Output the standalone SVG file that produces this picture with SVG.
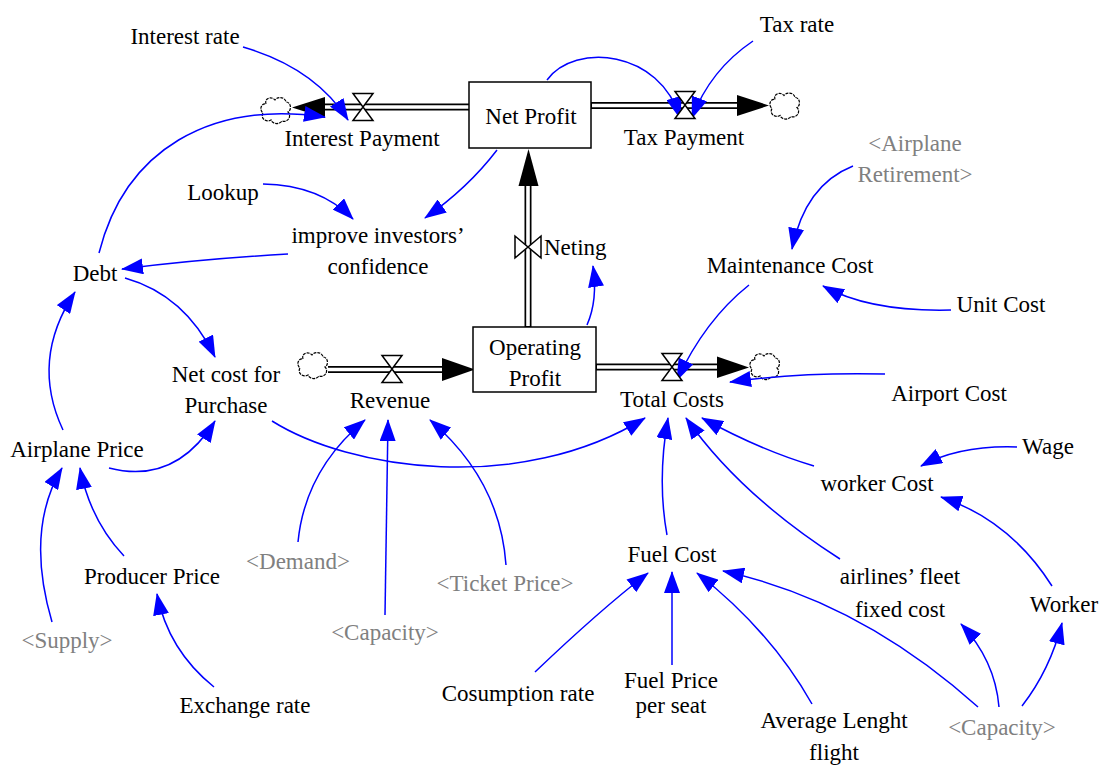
<svg xmlns="http://www.w3.org/2000/svg" width="1101" height="765" viewBox="0 0 1101 765">
<style>
text{font-family:'Liberation Serif',serif;font-size:23px;fill:#000;text-anchor:middle}
text.sh{fill:#808080}
.box{fill:#fff;stroke:#000;stroke-width:1.5}
.pipeo{stroke:#000;stroke-width:7;fill:none}
.pipei{stroke:#fff;stroke-width:3.6;fill:none}
.valve{fill:#fff;stroke:#000;stroke-width:1.5}
.head{fill:#000}
.cloud{fill:#fff;stroke:#000;stroke-width:1.2;stroke-dasharray:3 1}
.lk{fill:none;stroke:#0000ff;stroke-width:1.5;marker-end:url(#ah)}
</style>
<defs>
<marker id="ah" markerUnits="userSpaceOnUse" markerWidth="22" markerHeight="16" refX="21" refY="8" orient="auto">
<path d="M0,0 L22,8 L0,16 z" fill="#0000ff"/>
</marker>
<path id="cl" class="cloud" d="M-10,-6 C-12,-12 -4,-14 -1,-10 C2,-14 9,-13 10,-8 C15,-8 16,0 12,2 C16,6 12,13 6,11 C3,15 -4,14 -5,10 C-10,13 -16,8 -13,3 C-17,0 -15,-7 -10,-6 Z"/>
<path id="vv" class="valve" d="M-10,-13.5 L10,-13.5 L-10,13.5 L10,13.5 Z"/>
</defs>
<rect width="1101" height="765" fill="#fff"/>

<g id="flows">
<g id="flow-interest">
<line class="pipeo" x1="322" y1="107" x2="469" y2="107"/>
<line class="pipei" x1="320" y1="107" x2="469" y2="107"/>
<polygon class="head" points="292,107.5 325,97 325,118"/>
<use href="#cl" x="276" y="110"/>
</g>
<g id="flow-tax">
<line class="pipeo" x1="591" y1="105.5" x2="740" y2="105.5"/>
<line class="pipei" x1="592" y1="105.5" x2="740" y2="105.5"/>
<polygon class="head" points="737,95 737,116 769,105.5"/>
<use href="#cl" x="785" y="105.5"/>
</g>
<g id="flow-revenue">
<line class="pipeo" x1="328" y1="369.5" x2="444" y2="369.5"/>
<line class="pipei" x1="328" y1="369.5" x2="444" y2="369.5"/>
<polygon class="head" points="442,358 442,381 475,369.5"/>
<use href="#cl" x="313" y="365"/>
</g>
<g id="flow-total">
<line class="pipeo" x1="596" y1="367" x2="719" y2="367"/>
<line class="pipei" x1="597" y1="367" x2="719" y2="367"/>
<polygon class="head" points="717,356.5 717,378 749,367.5"/>
<use href="#cl" x="765" y="366"/>
</g>
<g id="flow-neting">
<line class="pipeo" x1="528" y1="327" x2="528" y2="183"/>
<line class="pipei" x1="528" y1="326" x2="528" y2="183"/>
<polygon class="head" points="518.5,186 538.5,186 528.5,149"/>
</g>
</g>

<g id="connectors">
<path class="lk" d="M243,47 Q315,68 348,120"/>
<path class="lk" d="M99,253 C125,150 210,100 325,117"/>
<path class="lk" d="M547,80 C575,42 660,50 680,118"/>
<path class="lk" d="M753,41 Q710,70 692,118"/>
<path class="lk" d="M497,150 Q468,188 425,218"/>
<path class="lk" d="M263,184 Q320,185 353,219"/>
<path class="lk" d="M288,254 Q200,259 122,269"/>
<path class="lk" d="M125,278 Q185,295 215,357"/>
<path class="lk" d="M63,430 Q30,360 75,292"/>
<path class="lk" d="M109,468 Q175,485 215,421"/>
<path class="lk" d="M272,421 C350,470 520,495 645,418"/>
<path class="lk" d="M52,622 Q25,530 62,468"/>
<path class="lk" d="M124,556 Q90,520 80,468"/>
<path class="lk" d="M214,687 Q168,650 157,594"/>
<path class="lk" d="M298,542 Q305,470 365,420"/>
<path class="lk" d="M385,615 L388,420"/>
<path class="lk" d="M506,565 Q500,480 430,420"/>
<path class="lk" d="M535,672 Q600,610 648,573"/>
<path class="lk" d="M667,535 Q657,480 668,418"/>
<path class="lk" d="M840,559 Q740,495 686,418"/>
<path class="lk" d="M814,466 Q760,450 702,418"/>
<path class="lk" d="M1017,447 Q960,445 921,466"/>
<path class="lk" d="M1052,586 Q1010,520 941,497"/>
<path class="lk" d="M1022,706 Q1050,670 1062,623"/>
<path class="lk" d="M999,707 Q995,660 961,624"/>
<path class="lk" d="M978,707 Q860,601 723,571"/>
<path class="lk" d="M812,704 Q770,630 697,573"/>
<path class="lk" d="M672,665 L672,572"/>
<path class="lk" d="M853,166 Q805,185 792,249"/>
<path class="lk" d="M951,310 Q870,312 823,286"/>
<path class="lk" d="M749,285 Q705,320 677,380"/>
<path class="lk" d="M885,374 Q800,372 730,382"/>
<path class="lk" d="M587,325 Q598,300 593,266"/>
</g>

<g id="net-profit"><rect class="box" x="469" y="82" width="122" height="66"/><text x="531" y="124">Net Profit</text></g>
<g id="operating-profit"><rect class="box" x="473" y="327" width="123" height="65"/><text x="535" y="355">Operating</text><text x="535" y="386">Profit</text></g>
<g id="interest-payment"><use href="#vv" x="363" y="107"/><text x="362" y="146">Interest Payment</text></g>
<g id="tax-payment"><use href="#vv" x="685" y="105"/><text x="684" y="145">Tax Payment</text></g>
<g id="revenue"><use href="#vv" x="392" y="369"/><text x="390" y="408">Revenue</text></g>
<g id="total-costs"><use href="#vv" x="672" y="367"/><text x="672" y="407">Total Costs</text></g>
<g id="neting"><path class="valve" d="M515,236 L515,258 L541,236 L541,258 Z"/><text x="544" y="255" style="text-anchor:start">Neting</text></g>

<g id="interest-rate"><text x="185" y="44">Interest rate</text></g>
<g id="tax-rate"><text x="797" y="32">Tax rate</text></g>
<g id="airplane-retirement"><text class="sh" x="915" y="151">&lt;Airplane</text><text class="sh" x="915" y="182">Retirement&gt;</text></g>
<g id="lookup"><text x="223" y="200">Lookup</text></g>
<g id="improve-confidence"><text x="378" y="243">improve investors’</text><text x="378" y="274">confidence</text></g>
<g id="maintenance-cost"><text x="790" y="273">Maintenance Cost</text></g>
<g id="debt"><text x="95" y="281">Debt</text></g>
<g id="unit-cost"><text x="1001" y="312">Unit Cost</text></g>
<g id="net-cost-purchase"><text x="226" y="382">Net cost for</text><text x="226" y="413">Purchase</text></g>
<g id="airport-cost"><text x="949" y="401">Airport Cost</text></g>
<g id="airplane-price"><text x="77" y="457">Airplane Price</text></g>
<g id="wage"><text x="1048" y="454">Wage</text></g>
<g id="worker-cost"><text x="877" y="491">worker Cost</text></g>
<g id="demand"><text class="sh" x="298" y="569">&lt;Demand&gt;</text></g>
<g id="fuel-cost"><text x="672" y="562">Fuel Cost</text></g>
<g id="producer-price"><text x="152" y="584">Producer Price</text></g>
<g id="ticket-price"><text class="sh" x="505" y="591">&lt;Ticket Price&gt;</text></g>
<g id="fleet-fixed-cost"><text x="900" y="584">airlines’ fleet</text><text x="900" y="617">fixed cost</text></g>
<g id="worker"><text x="1064" y="612">Worker</text></g>
<g id="supply"><text class="sh" x="67" y="648">&lt;Supply&gt;</text></g>
<g id="capacity-1"><text class="sh" x="385" y="640">&lt;Capacity&gt;</text></g>
<g id="exchange-rate"><text x="245" y="713">Exchange rate</text></g>
<g id="cosumption-rate"><text x="518" y="701">Cosumption rate</text></g>
<g id="fuel-price"><text x="671" y="688">Fuel Price</text><text x="671" y="713">per seat</text></g>
<g id="average-length"><text x="834" y="728">Average Lenght</text><text x="834" y="760">flight</text></g>
<g id="capacity-2"><text class="sh" x="1002" y="735">&lt;Capacity&gt;</text></g>
</svg>
